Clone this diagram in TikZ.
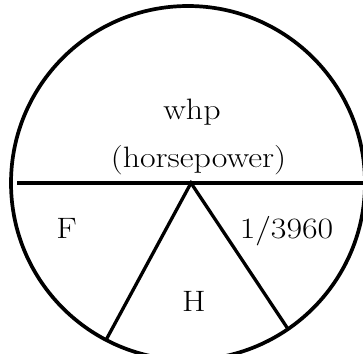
\documentclass[tikz,border=0pt]{standalone}
\usepackage{fontspec}
\setmainfont{Latin Modern Roman}[FakeStretch=1.15]
\usetikzlibrary{positioning}

\begin{document}
\begin{tikzpicture}[x=1pt, y=-1pt, font=\fontsize{29.5}{34}\selectfont]
    % Styles
    \tikzset{rim/.style={draw, line width=3.7pt},
             bar/.style={draw, line width=3.3pt},
             lbl/.style={inner sep=0pt, anchor=base}}
    \useasboundingbox (0,0) rectangle (363,353);
    \clip (0,0) rectangle (363,353);

    % Circle and dividers
    \coordinate (ctr) at (188,183);
    \draw [rim] (ctr) circle [radius=177pt];
    \coordinate (west) at (17,183);
    \coordinate (east) at (380,183);
    \coordinate (apex) at (191,183);
    \coordinate (lfoot) at (106,340);
    \coordinate (rfoot) at (288,329);
    \draw [bar] (west) -- (east);
    \draw [bar] (lfoot) -- (apex) -- (rfoot);

    % Labels
    \node [lbl] (whp) at (192,119) {whp};
    \node [lbl] (hp) at (198.5,167) {(horsepower)};
    \node [lbl] (force) at (66.5,238) {F};
    \node [lbl] (const) at (286.5,238) {1/3960};
    \node [lbl] (head) at (194,311) {H};
\end{tikzpicture}
\end{document}
